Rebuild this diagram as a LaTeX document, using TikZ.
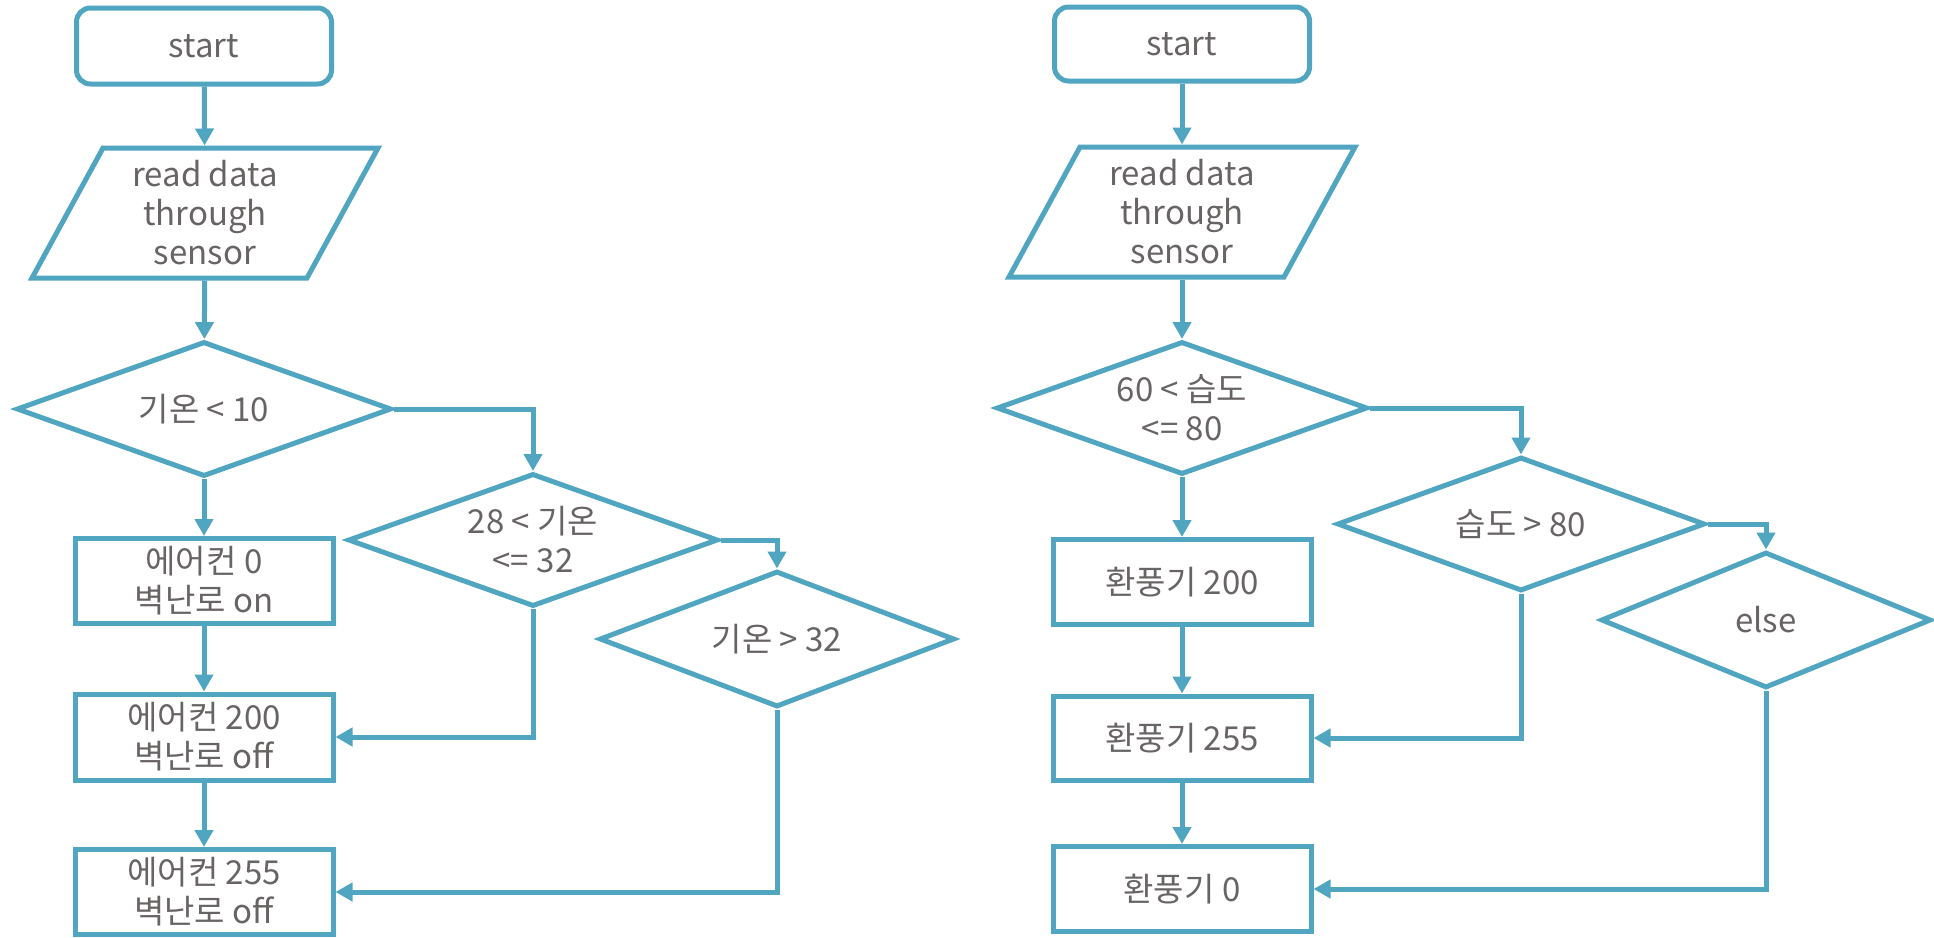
\documentclass[tikz,border=0pt]{standalone}
\usepackage{fontspec}
\setmainfont{Noto Sans CJK KR}
\usetikzlibrary{shapes.geometric,arrows.meta,calc}
\definecolor{flowline}{RGB}{80,165,192}
\definecolor{flowtext}{RGB}{105,100,100}

\tikzset{
  base/.style={draw=flowline, line width=5pt, font=\fontsize{33}{39}\selectfont,
    text=flowtext, align=center, inner sep=0pt},
  terminal/.style={base, rectangle, rounded corners=14pt, minimum width=255pt, minimum height=76pt},
  process/.style={base, rectangle, minimum width=258pt, minimum height=85pt},
  decision/.style={base, diamond, aspect=2.8},
  ioshape/.style={base, draw=none, minimum width=275pt, minimum height=130pt},
  ioframe/.style={draw=flowline, line width=5pt, line join=miter},
  arr/.style={draw=flowline, line width=5pt, -{Triangle[length=17pt,width=18pt]}},
}

\newcommand{\ioframe}[1]{%
  \draw[ioframe] ($(#1.center)+(-102,-65)$) -- ($(#1.center)+(173,-65)$)
    -- ($(#1.center)+(102,65)$) -- ($(#1.center)+(-173,65)$) -- cycle;}

\begin{document}
\begin{tikzpicture}[x=1pt,y=-1pt]
\useasboundingbox (0,0) rectangle (1934,937);

% ---- temperature control ----
\node[terminal] (s1) at (204,46) {start};
\node[ioshape] (p1) at (205,213) {read data\\through\\sensor};
\ioframe{p1}
\node[decision, minimum width=375pt, minimum height=135pt] (d1) at (204,409) {기온 < 10};
\node[process] (b1) at (204,581) {에어컨 0\\벽난로 on};
\node[process, minimum height=86pt] (b2) at (204,737) {에어컨 200\\벽난로 off};
\node[process] (b3) at (204,892) {에어컨 255\\벽난로 off};
\node[decision, minimum width=370pt, minimum height=133pt] (d2) at (533,540) {28 < 기온\\<= 32};
\node[decision, minimum width=355pt, minimum height=136pt] (d3) at (777,639) {기온 > 32};

\draw[arr] (s1) -- (p1);
\draw[arr] (p1) -- (d1);
\draw[arr] (d1) -- (b1);
\draw[arr] (b1) -- (b2);
\draw[arr] (b2) -- (b3);
\draw[arr] (d1.east) -| (d2.north);
\draw[arr] (d2.east) -| (d3.north);
\draw[arr] (d2.south) |- (b2.east);
\draw[arr] (d3.south) |- (b3.east);

% ---- humidity control ----
\node[terminal, minimum height=74pt] (s2) at (1182,44) {start};
\node[ioshape] (p2) at (1182,212) {read data\\through\\sensor};
\ioframe{p2}
\node[decision, minimum width=371pt, minimum height=133pt] (e1) at (1182,408) {60 < 습도\\<= 80};
\node[process] (c1) at (1182,582) {환풍기 200};
\node[process, minimum height=84pt] (c2) at (1182,738) {환풍기 255};
\node[process] (c3) at (1182,889) {환풍기 0};
\node[decision, minimum width=368pt, minimum height=134pt] (e2) at (1521,524) {습도 > 80};
\node[decision, minimum width=330pt, minimum height=136pt] (e3) at (1766,620) {else};

\draw[arr] (s2) -- (p2);
\draw[arr] (p2) -- (e1);
\draw[arr] (e1) -- (c1);
\draw[arr] (c1) -- (c2);
\draw[arr] (c2) -- (c3);
\draw[arr] (e1.east) -| (e2.north);
\draw[arr] (e2.east) -| (e3.north);
\draw[arr] (e2.south) |- (c2.east);
\draw[arr] (e3.south) |- (c3.east);
\end{tikzpicture}
\end{document}
